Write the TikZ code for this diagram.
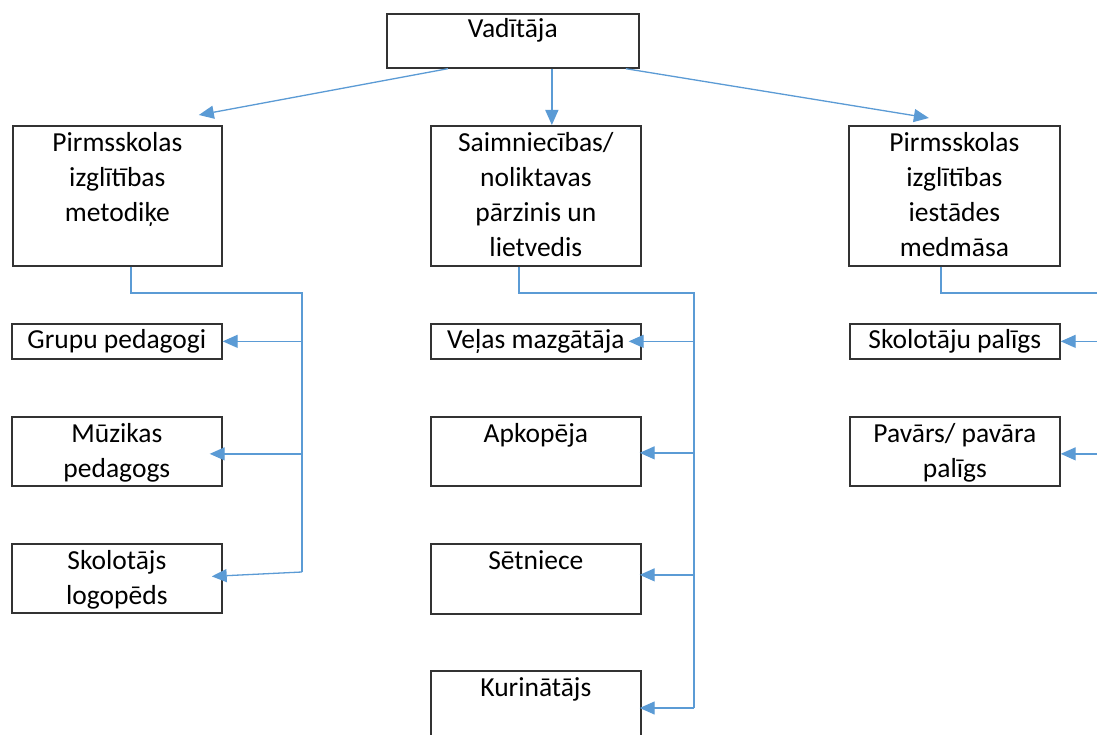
\documentclass[tikz,border=0pt]{standalone}
\usepackage{fontspec}
\setmainfont{Carlito}
\usetikzlibrary{arrows.meta}
\definecolor{conn}{HTML}{5B9BD5}
\definecolor{boxline}{HTML}{333333}
\tikzset{
  box/.style={draw=boxline, line width=1.7pt, inner sep=0pt, anchor=north west},
  txt/.style={inner sep=0pt, anchor=base, align=center, font=\fontsize{27.5}{35}\selectfont},
  link/.style={draw=conn, line width=1.3pt},
  arr/.style={link, -{Triangle[length=15pt,width=13pt]}},
}
\begin{document}
\begin{tikzpicture}[x=1pt,y=-1pt]
\useasboundingbox[fill=white] (0,0) rectangle (1097,735);
% top
\node[box, minimum width=252pt, minimum height=54pt] (V) at (386,13) {};
\node[txt] (Vt) at ([yshift=-25pt]V.north) {Vadītāja};
% level 2 (base anchor = last line baseline)
\node[box, minimum width=209pt, minimum height=140pt] (A) at (12,125) {};
\node[txt] (At) at ([yshift=-97pt]A.north) {Pirmsskolas\\izglītības\\metodiķe};
\node[box, minimum width=210pt, minimum height=140pt] (B) at (430,125) {};
\node[txt] (Bt) at ([yshift=-132pt]B.north) {Saimniecības/\\noliktavas\\pārzinis un\\lietvedis};
\node[box, minimum width=211pt, minimum height=140pt] (C) at (848,125) {};
\node[txt] (Ct) at ([yshift=-132pt]C.north) {Pirmsskolas\\izglītības\\iestādes\\medmāsa};
% left children
\node[box, minimum width=210pt, minimum height=35pt] (G1) at (11,323) {};
\node[txt] (G1t) at ([yshift=-25pt]G1.north) {Grupu pedagogi};
\node[box, minimum width=210pt, minimum height=69pt] (G2) at (11,416) {};
\node[txt] (G2t) at ([yshift=-61pt]G2.north) {Mūzikas\\pedagogs};
\node[box, minimum width=210pt, minimum height=69pt] (G3) at (11,543) {};
\node[txt] (G3t) at ([yshift=-61pt]G3.north) {Skolotājs\\logopēds};
% middle children
\node[box, minimum width=210pt, minimum height=35pt] (M1) at (430,323) {};
\node[txt] (M1t) at ([yshift=-25pt]M1.north) {Veļas mazgātāja};
\node[box, minimum width=210pt, minimum height=69pt] (M2) at (430,416) {};
\node[txt] (M2t) at ([yshift=-26pt]M2.north) {Apkopēja};
\node[box, minimum width=210pt, minimum height=70pt] (M3) at (430,543) {};
\node[txt] (M3t) at ([yshift=-26pt]M3.north) {Sētniece};
\node[box, minimum width=210pt, minimum height=90pt] (M4) at (430,670) {};
\node[txt] (M4t) at ([yshift=-26pt]M4.north) {Kurinātājs};
% right children
\node[box, minimum width=210pt, minimum height=35pt] (R1) at (849,323) {};
\node[txt] (R1t) at ([yshift=-25pt]R1.north) {Skolotāju palīgs};
\node[box, minimum width=210pt, minimum height=69pt] (R2) at (849,416) {};
\node[txt] (R2t) at ([yshift=-61pt]R2.north) {Pavārs/ pavāra\\palīgs};
% top arrows
\draw[arr] ([xshift=-65pt]V.south) -- ([xshift=81.5pt,yshift=10pt]A.north);
\draw[arr] ([xshift=39pt]V.south) -- ([xshift=16pt]B.north);
\draw[arr] ([xshift=113pt]V.south) -- ([xshift=-25.5pt,yshift=7pt]C.north);
% trunks
\coordinate (jA) at (302,293);
\coordinate (jAe) at (302,572);
\coordinate (jB) at (694,293);
\coordinate (jBe) at (694,708);
\coordinate (jC) at (1110,293);
\coordinate (jCe) at (1110,460);
\draw[link] ([xshift=13.5pt]A.south) |- (jA) -- (jAe);
\draw[link] ([xshift=-17pt]B.south) |- (jB) -- (jBe);
\draw[link] ([xshift=-13.5pt]C.south) |- (jC) -- (jCe);
% left branch arrows
\draw[arr] (jA |- G1.east) -- (G1.east);
\draw[arr, shorten >=-13pt] ([yshift=-2.5pt]jA |- G2.east) -- ([yshift=-2.5pt]G2.east);
\draw[arr, shorten >=-11pt] (jAe) -- ([yshift=2.5pt]G3.east);
% middle branch arrows
\draw[arr, shorten >=-13pt] (jB |- M1.east) -- (M1.east);
\draw[arr, shorten >=-2pt] ([yshift=-1.5pt]jB |- M2.east) -- ([yshift=-1.5pt]M2.east);
\draw[arr, shorten >=-2pt] ([yshift=4pt]jB |- M3.east) -- ([yshift=4pt]M3.east);
\draw[arr, shorten >=-2pt] (jBe) -- (jBe -| M4.east);
% right branch arrows
\draw[arr] (jC |- R1.east) -- (R1.east);
\draw[arr] ([yshift=-2.5pt]jC |- R2.east) -- ([yshift=-2.5pt]R2.east);
\end{tikzpicture}
\end{document}
